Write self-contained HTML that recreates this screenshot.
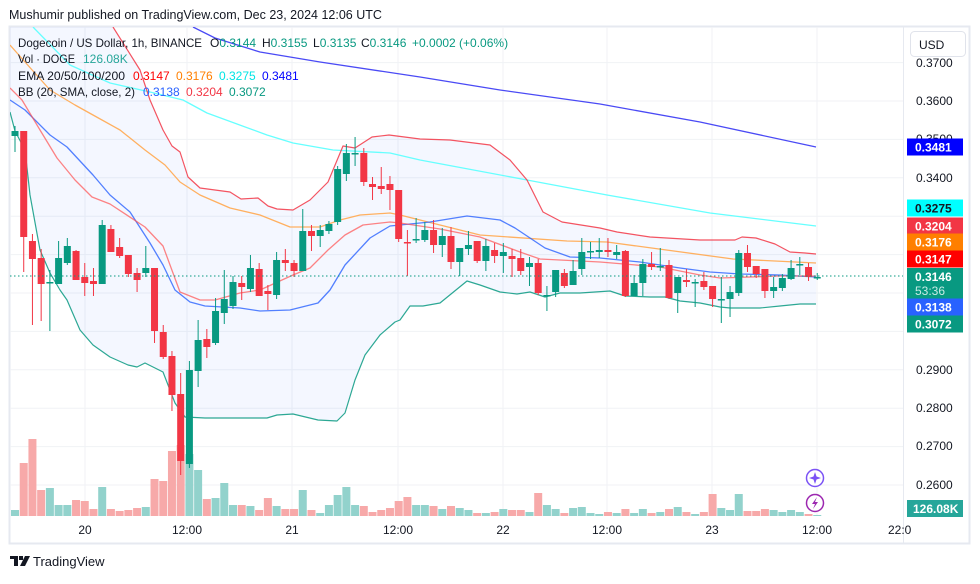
<!DOCTYPE html>
<html><head><meta charset="utf-8">
<style>
body{margin:0;background:#fff;width:980px;height:579px;overflow:hidden;font-family:"Liberation Sans",sans-serif;}
svg text{font-family:"Liberation Sans",sans-serif;}
</style></head><body>
<svg id="s" width="980" height="579" xmlns="http://www.w3.org/2000/svg">
<rect x="0" y="0" width="980" height="579" fill="#fff"/>
<text x="9" y="19" font-size="12.5" fill="#131722">Mushumir published on TradingView.com, Dec 23, 2024 12:06 UTC</text>
<rect x="9.5" y="26.5" width="960" height="517" fill="none" stroke="#e6e9f0" stroke-width="2"/>
<line x1="903.5" y1="27" x2="903.5" y2="543" stroke="#e6e9f0"/>
<g id="grid" stroke="#f0f2f5" stroke-width="1"></g>
<defs><clipPath id="cp"><rect x="10" y="27" width="893" height="489"/></clipPath></defs>
<g id="plot" clip-path="url(#cp)"></g>
<g id="lg" font-size="12">
<text x="18" y="47" fill="#131722" textLength="184" lengthAdjust="spacingAndGlyphs">Dogecoin / US Dollar, 1h, BINANCE</text>
<text y="47" fill="#131722"><tspan x="210">O</tspan><tspan fill="#089981">0.3144</tspan><tspan x="262">H</tspan><tspan fill="#089981">0.3155</tspan><tspan x="313">L</tspan><tspan fill="#089981">0.3135</tspan><tspan x="361">C</tspan><tspan fill="#089981">0.3146</tspan><tspan x="412" fill="#089981">+0.0002 (+0.06%)</tspan></text>
<text x="18" y="63" fill="#131722" textLength="57" lengthAdjust="spacingAndGlyphs">Vol · DOGE</text>
<text x="83" y="63" fill="#26a69a">126.08K</text>
<text x="18" y="80" fill="#131722" textLength="107" lengthAdjust="spacingAndGlyphs">EMA 20/50/100/200</text>
<text y="80"><tspan x="133" fill="#ff0000">0.3147</tspan><tspan x="176" fill="#ff7f00">0.3176</tspan><tspan x="219" fill="#00e5e5">0.3275</tspan><tspan x="262" fill="#0000ff">0.3481</tspan></text>
<text x="18" y="96" fill="#131722" textLength="117" lengthAdjust="spacingAndGlyphs">BB (20, SMA, close, 2)</text>
<text y="96"><tspan x="143" fill="#2962ff">0.3138</tspan><tspan x="186" fill="#f23645">0.3204</tspan><tspan x="229" fill="#089981">0.3072</tspan></text>
</g>
<rect x="910.5" y="31.5" width="55" height="25" rx="4" fill="#fff" stroke="#e0e3eb"/>
<text x="919" y="49" font-size="12" fill="#131722">USD</text>
<g id="ax" font-size="12" fill="#131722"></g>
<g id="tx" font-size="12" fill="#131722"></g>
<circle cx="815" cy="478" r="8.5" fill="#fff" stroke="#7b52f5" stroke-width="1.5"/>
<path d="M815 472 L816.5 476.5 L821 478 L816.5 479.5 L815 484 L813.5 479.5 L809 478 L813.5 476.5Z" fill="#7b52f5"/>
<circle cx="815" cy="503" r="8.5" fill="#fff" stroke="#9c27b0" stroke-width="1.5"/>
<path d="M817 497 L812 504 L815 504 L813 509 L818 502 L815 502Z" fill="#9c27b0"/>
<path d="M10 556 H18 V566 H14 V559 H10Z M19 556 H23 V560 H19Z M25 556 H30 L25 566 H20Z" fill="#131722"/>
<text x="33" y="566" font-size="13" fill="#131722">TradingView</text>
</svg>
<script>
const NS="http://www.w3.org/2000/svg";
function el(p,t,a,txt){const e=document.createElementNS(NS,t);for(const k in a)e.setAttribute(k,a[k]);if(txt!==undefined)e.textContent=txt;p.appendChild(e);return e;}
const grid=document.getElementById('grid'),plot=document.getElementById('plot'),ax=document.getElementById('ax'),tx=document.getElementById('tx');
const ys=[62.6,101,139.4,177.8,216.2,254.6,293,331.4,369.8,408.2,446.6,485];
ys.forEach(y=>el(grid,'line',{x1:10,x2:903,y1:y,y2:y}));
const xs=[85,187,292,398,503,607,712,817];
xs.forEach(x=>el(grid,'line',{x1:x,x2:x,y1:27,y2:516}));
const lab=["20","12:00","21","12:00","22","12:00","23","12:00"];
xs.forEach((x,i)=>el(tx,'text',{x:x,y:534,'text-anchor':'middle'},lab[i]));
el(tx,'text',{x:888,y:534},"22:0");
[["0.3700",63],["0.3600",101],["0.3500",139],["0.3400",178],["0.2900",370],["0.2800",408],["0.2700",446],["0.2600",485]].forEach(a=>el(ax,'text',{x:916,y:a[1]+4},a[0]));
function pts(a){return a.map(p=>p.join(',')).join(' ');}
const upper=[[113,27],[140,70],[150,100],[163,130],[172,146],[180,152],[188,177],[200,188],[215,190],[230,192],[241,199],[258,198],[268,206],[277,209],[293,210],[310,200],[328,182],[343,146],[355,148],[372,137],[389,135],[420,139],[450,140],[490,145],[510,160],[527,180],[543,212],[562,222],[600,228],[617,232],[650,237],[700,240],[735,240],[742,237],[756,238],[775,244],[790,252],[805,253],[816,254]];
const lower=[[10,112],[15,131],[25,150],[30,195],[40,250],[50,273],[60,290],[67,300],[80,330],[93,345],[110,357],[128,365],[137,367],[145,363],[163,372],[175,403],[185,417],[205,418],[230,418],[267,418],[277,415],[293,414],[318,420],[337,421],[345,413],[355,380],[365,355],[380,335],[395,322],[400,320],[410,306],[423,306],[440,303],[467,281],[480,285],[500,292],[517,294],[530,292],[545,297],[560,293],[580,293],[610,291],[625,296],[650,297],[665,297],[680,301],[700,303],[720,307],[730,308],[760,308],[780,306],[800,304],[816,304]];
el(plot,'polygon',{points:pts([[10,27]].concat(upper,lower.slice().reverse())),fill:'#2962ff',opacity:0.05});
const basis=[[10,100],[25,110],[50,135],[67,147],[93,175],[110,195],[130,212],[150,243],[163,265],[175,290],[190,302],[205,306],[240,308],[260,311],[290,310],[318,303],[330,290],[345,265],[370,238],[390,226],[430,222],[467,216],[500,220],[515,228],[545,248],[570,257],[600,258],[640,262],[680,268],[710,272],[740,274],[780,275],[816,277]];
const e20=[[10,88],[22,100],[40,130],[57,158],[75,180],[92,197],[110,204],[145,227],[163,246],[180,292],[200,300],[215,300],[240,293],[260,290],[293,275],[310,268],[328,250],[345,235],[363,225],[390,222],[400,223],[440,229],[480,237],[520,252],[540,259],[600,262],[660,267],[700,275],[720,278],[780,276],[816,276]];
const e50=[[10,45],[25,62],[50,90],[75,105],[93,115],[120,130],[145,150],[165,165],[180,182],[200,195],[230,208],[260,215],[290,227],[320,227],[340,220],[360,215],[390,213],[400,215],[480,235],[567,241],[607,242],[733,259],[816,263]];
const e100=[[33,27],[70,65],[110,83],[150,92],[183,100],[207,113],[267,135],[293,143],[333,150],[390,153],[420,160],[527,180],[607,195],[710,213],[816,226]];
const e200=[[193,27],[215,38],[260,52],[320,62],[420,77],[500,90],[600,104],[700,122],[816,147]];
const vol=[[1,510],[0,463],[0,439],[0,490],[1,488],[1,505],[1,505],[0,500],[0,501],[0,509],[1,487],[0,509],[0,511],[0,510],[0,508],[1,507],[0,479],[0,481],[0,451],[0,445],[1,454],[1,470],[0,499],[1,498],[1,483],[1,505],[0,505],[1,506],[0,510],[0,498],[1,506],[0,509],[0,509],[1,490],[0,510],[1,513],[1,505],[1,495],[1,487],[1,505],[0,506],[0,512],[0,510],[0,508],[0,501],[0,497],[1,505],[1,505],[0,506],[1,509],[0,506],[1,508],[1,510],[0,513],[1,513],[0,512],[1,509],[0,510],[0,510],[1,512],[0,493],[1,505],[1,509],[0,513],[1,508],[1,507],[1,513],[1,514],[0,512],[1,513],[0,509],[1,513],[1,509],[0,513],[1,512],[0,509],[1,507],[0,512],[1,514],[0,512],[0,494],[1,508],[1,510],[1,494],[0,511],[0,511],[0,509],[1,510],[1,512],[1,510],[1,512],[0,514],[1,515]];
const X=i=>15+i*8.72;
vol.forEach((v,i)=>el(plot,'rect',{x:X(i)-4,y:v[1],width:8,height:516-v[1],fill:v[0]?'#92d2cc':'#f7a9a9'}));
function line(a,c,w,o){el(plot,'polyline',{points:pts(a),fill:'none',stroke:c,'stroke-width':w||1.3,opacity:o||1,'stroke-linejoin':'round'});}
line(e200,'#4a4af5',1.3);line(e100,'#66ffff',1.3);line(e50,'#ffb060',1.3);
line(upper,'#f23645',1.2,0.85);line(lower,'#089981',1.2,0.85);
line(basis,'#2962ff',1.3,0.8);line(e20,'#ff5050',1.3,0.7);
const C=[[136,131,126,152],[131,237,131,272],[241,259,234,325],[258,284,249,321],[283,282,270,331],[284,258,241,284],[263,246,238,265],[251,280,250,280],[277,283,263,296],[281,284,268,296],[284,225,220,284],[229,252,225,252],[247,256,238,258],[255,274,255,277],[273,280,268,292],[273,268,246,277],[268,331,268,343],[332,357,325,359],[356,395,351,411],[394,461,373,475],[464,370,361,468],[371,340,320,387],[339,347,329,358],[343,311,298,345],[313,299,270,324],[306,282,276,309],[283,287,276,300],[289,268,255,292],[269,296,263,296],[291,294,285,310],[295,260,252,299],[260,263,249,271],[263,271,260,277],[271,231,209,271],[231,236,225,251],[236,230,225,247],[231,224,221,234],[222,169,166,225],[174,153,144,181],[153.5,153,137,166],[153,182,148,186],[184,187,177,200],[186,189,167,194],[184,190,176,210],[190,239,190,242],[242,243,230,276],[240,239,218,243],[240,230,222,242],[230,245,220,253],[245,236,228,257],[236,262,227,269],[262,248,248,276],[249,245,231,255],[241,261,241,263],[261,246,239,271],[250,256,243,263],[256,252,243,273],[256,259,249,277],[258,271,249,275],[267,263,257,286],[263,293,259,295],[295.5,295,286,311],[292,270,270,297],[273,286,269,288],[285,271,260,285],[269,252,238,275],[252,251,242,259],[252,250,238,258],[250,252,238,257],[255,252,245,259],[251,296,250,297],[296,283,275,296],[283,264,259,296],[264,267,252,270],[267,266,248,271],[265,298,260,299],[293,277,277,313],[280,282,269,287],[282.5,282,279,307],[281,287,272,290],[286,299,286,307],[299.5,299,277,323],[299,292,286,317],[293,253,250,296],[253,267,245,272],[266,274,266,278],[269,291,269,298],[291,287,277,298],[288,278,274,291],[279,268,260,280],[265,264,257,275],[267,277,263,281],[277.5,277,273,280]];
C.forEach((c,i)=>{const x=X(i),up=c[1]<c[0],col=up?'#089981':'#f23645';
el(plot,'line',{x1:x,x2:x,y1:c[2],y2:c[3],stroke:col,'stroke-width':1});
const t=Math.min(c[0],c[1]),h=Math.max(1.5,Math.abs(c[0]-c[1]));
el(plot,'rect',{x:x-3.5,y:t,width:7,height:h,fill:col});});
el(plot,'line',{x1:10,x2:903,y1:276,y2:276,stroke:'#089981','stroke-dasharray':'1.5,2.5'});
const L=[["0.3481",147,'#0000ff','#fff'],["0.3275",208,'#00ffff','#131722'],["0.3204",226,'#f23645','#fff'],["0.3176",242,'#ff7f00','#fff'],["0.3147",259,'#ff0000','#fff'],["0.3138",307,'#2962ff','#fff'],["0.3072",324,'#089981','#fff']];
el(ax,'rect',{x:907,y:268,width:56,height:31,fill:'#089981'});
el(ax,'text',{x:915,y:281,fill:'#fff','font-weight':'bold'},"0.3146");
el(ax,'text',{x:915,y:295,fill:'#c8ebe5'},"53:36");
L.forEach(l=>{el(ax,'rect',{x:907,y:l[1]-8.5,width:56,height:17,fill:l[2]});el(ax,'text',{x:915,y:l[1]+4.5,fill:l[3],'font-weight':'bold'},l[0]);});
el(ax,'rect',{x:907,y:500,width:56,height:17,fill:'#26a69a'});
el(ax,'text',{x:913,y:513,fill:'#fff','font-weight':'bold'},"126.08K");
</script>
</body></html>
